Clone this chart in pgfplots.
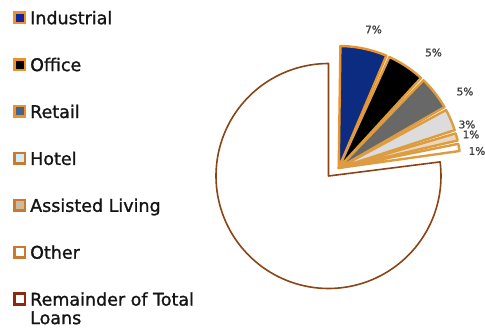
\documentclass[border=0pt]{standalone}
\usepackage{pgfplots}
\pgfplotsset{compat=1.18}
\usepackage{fontspec}
\setmainfont{DejaVu Sans}
\newfontfamily\legfont{DejaVu Sans}[BoldFont=DejaVu Sans, BoldFeatures={FakeBold=1.2}]
\definecolor{cInd}{HTML}{0B2C80}
\definecolor{cIndL}{HTML}{1424A0}
\definecolor{cRet}{HTML}{686868}
\definecolor{cRetL}{HTML}{44628A}
\definecolor{cHot}{HTML}{DCDCDC}
\definecolor{cHotL}{HTML}{D2ECF8}
\definecolor{cAL}{HTML}{E8D8C0}
\definecolor{cALL}{HTML}{CDB99C}
\definecolor{cTan}{HTML}{DE9C40}
\definecolor{cOr}{HTML}{EC922A}
\definecolor{cOr2}{HTML}{C97A30}
\definecolor{cBrown}{HTML}{8A4516}
\definecolor{cRem}{HTML}{8B2A12}
% shares of total loans (percent)
\def\pInd{6.6}\def\pOff{5.4}\def\pRet{4.9}\def\pHot{3.3}\def\pAL{1.4}\def\pOth{1.4}
\pgfmathsetmacro\aA{90}
\pgfmathsetmacro\aB{\aA-3.6*\pInd}
\pgfmathsetmacro\aC{\aB-3.6*\pOff}
\pgfmathsetmacro\aD{\aC-3.6*\pRet}
\pgfmathsetmacro\aE{\aD-3.6*\pHot}
\pgfmathsetmacro\aF{\aE-3.6*\pAL}
\pgfmathsetmacro\aG{\aF-3.6*\pOth}
\pgfmathsetmacro\aR{\aG-360+3.6*(\pInd+\pOff+\pRet+\pHot+\pAL+\pOth)}
\def\gap{0.8}
\def\ex{10.2}\def\ey{8}\def\re{122}\def\rr{112.5}
\pgfplotsset{
  sq/.style={legend image code/.code={\draw[line width=2.6bp] (1.3bp,1.3bp) rectangle (11.9bp,11.9bp);}},
  wedge/.style={draw=cTan, line width=2.4bp, line join=round, samples=20, variable=\t, forget plot},
}
\begin{document}
\begin{tikzpicture}
\begin{axis}[
  scale only axis, width=485bp, height=330bp,
  xmin=-328.5, xmax=156.5, ymin=-154, ymax=176,
  hide axis, clip=false,
  legend style={at={(axis cs:-315.5,165)}, anchor=north west, draw=none, fill=none,
    inner sep=0pt, outer sep=0pt, row sep=29.7bp, column sep=4bp,
    font=\legfont\bfseries\fontsize{17.5bp}{18.5bp}\selectfont,
    nodes={inner sep=0bp, text height=13bp, text depth=4bp, text=black!92},
    cells={anchor=base west}},
]
\addlegendimage{sq, fill=cIndL, draw=cOr}
\addlegendentry{Industrial}
\addlegendimage{sq, fill=black, draw=cOr}
\addlegendentry{Office}
\addlegendimage{sq, fill=cRetL, draw=cOr}
\addlegendentry{Retail}
\addlegendimage{sq, fill=cHotL, draw=cOr2}
\addlegendentry{Hotel}
\addlegendimage{sq, fill=cALL, draw=cOr2}
\addlegendentry{Assisted Living}
\addlegendimage{sq, fill=white, draw=cOr2}
\addlegendentry{Other}
\addlegendimage{sq, fill=white, draw=cRem}
\addlegendentry{\begin{tabular}[t]{@{}l@{}}Remainder of Total\\Loans\end{tabular}}

% remainder
\addplot[fill=white, draw=cBrown, line width=1.6bp, line join=round, samples=120, variable=\t, forget plot, domain=\aR:\aG]
  ({\rr*cos(\t)},{\rr*sin(\t)}) -- (axis cs:0,0) -- cycle;
% exploded slices
\addplot[wedge, fill=cInd, draw=cOr, domain=\aB+\gap:\aA-\gap]
  ({\ex+\re*cos(\t)},{\ey+\re*sin(\t)}) -- (axis cs:\ex,\ey) -- cycle;
\addplot[wedge, fill=black, domain=\aC+\gap:\aB-\gap]
  ({\ex+\re*cos(\t)},{\ey+\re*sin(\t)}) -- (axis cs:\ex,\ey) -- cycle;
\addplot[wedge, fill=cRet, domain=\aD+\gap:\aC-\gap]
  ({\ex+\re*cos(\t)},{\ey+\re*sin(\t)}) -- (axis cs:\ex,\ey) -- cycle;
\addplot[wedge, fill=cHot, domain=\aE+\gap:\aD-\gap]
  ({\ex+\re*cos(\t)},{\ey+\re*sin(\t)}) -- (axis cs:\ex,\ey) -- cycle;
\addplot[wedge, fill=cAL, domain=\aF+\gap:\aE-\gap]
  ({\ex+\re*cos(\t)},{\ey+\re*sin(\t)}) -- (axis cs:\ex,\ey) -- cycle;
\addplot[wedge, fill=white, domain=\aG+\gap:\aF-\gap]
  ({\ex+\re*cos(\t)},{\ey+\re*sin(\t)}) -- (axis cs:\ex,\ey) -- cycle;

\begin{scope}[every node/.style={font=\legfont\bfseries\fontsize{10.5bp}{12bp}\selectfont, text=black!75, inner sep=0pt}]
\node at (axis cs:45,146.5) {7\%};
\node at (axis cs:105,123.5) {5\%};
\node at (axis cs:136.5,84.5) {5\%};
\node at (axis cs:138.5,51.5) {3\%};
\node at (axis cs:142.5,41.5) {1\%};
\node at (axis cs:148.5,25) {1\%};
\end{scope}
\end{axis}
\pgfresetboundingbox
\path (current axis.south west) rectangle (current axis.north east);
\end{tikzpicture}
\end{document}
